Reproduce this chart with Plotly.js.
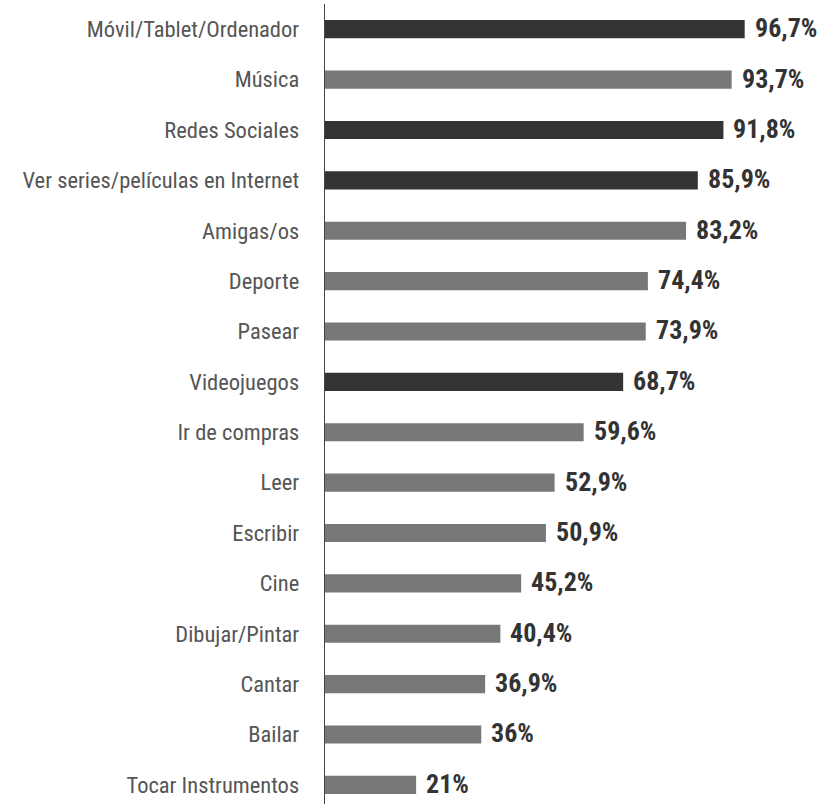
<!DOCTYPE html>
<html><head><meta charset="utf-8">
<script src="https://cdn.plot.ly/plotly-3.0.1.min.js"></script>
<style>html,body{margin:0;padding:0;background:#fff}</style>
</head><body><div id="chart" style="width:838px;height:804px"></div>
<script>
const categories = ["Móvil/Tablet/Ordenador","Música","Redes Sociales","Ver series/películas en Internet","Amigas/os","Deporte","Pasear","Videojuegos","Ir de compras","Leer","Escribir","Cine","Dibujar/Pintar","Cantar","Bailar","Tocar Instrumentos"];
const values = [96.7,93.7,91.8,85.9,83.2,74.4,73.9,68.7,59.6,52.9,50.9,45.2,40.4,36.9,36,21];
const highlighted = ["Móvil/Tablet/Ordenador","Redes Sociales","Ver series/películas en Internet","Videojuegos"];
const darkColor = "#333333", greyColor = "#777777";
const labels = values.map(v => String(v).replace(".", ",") + "%");
const colors = categories.map(c => highlighted.includes(c) ? darkColor : greyColor);
const condensed = "Roboto Condensed, Liberation Sans Narrow, DejaVu Sans Condensed, Roboto, sans-serif";

const annotations = categories.map((c, i) => ({
  x: values[i], y: c, xref: "x", yref: "y", text: labels[i], showarrow: false,
  xanchor: "left", yanchor: "middle", xshift: 8, yshift: 1,
  font: {family: condensed, size: 26, color: "#333333", weight: "bold"}
}));

Plotly.newPlot("chart", [{
  type: "bar", orientation: "h", y: categories, x: values,
  marker: {color: colors}, width: 0.36, hoverinfo: "none"
}], {
  width: 838, height: 804,
  margin: {l: 325, r: 79, t: 4, b: 0, pad: 0},
  paper_bgcolor: "#fff", plot_bgcolor: "#fff",
  showlegend: false,
  xaxis: {range: [0, 100], visible: false, fixedrange: true},
  yaxis: {type: "category", range: [15.38, -0.5], showline: true, linecolor: "#444", linewidth: 1.3,
          ticks: "", showgrid: false, zeroline: false, ticklabelstandoff: 20,
          tickfont: {family: condensed, size: 22.5, color: "#555555"}},
  annotations: annotations
}, {staticPlot: true});
</script></body></html>
